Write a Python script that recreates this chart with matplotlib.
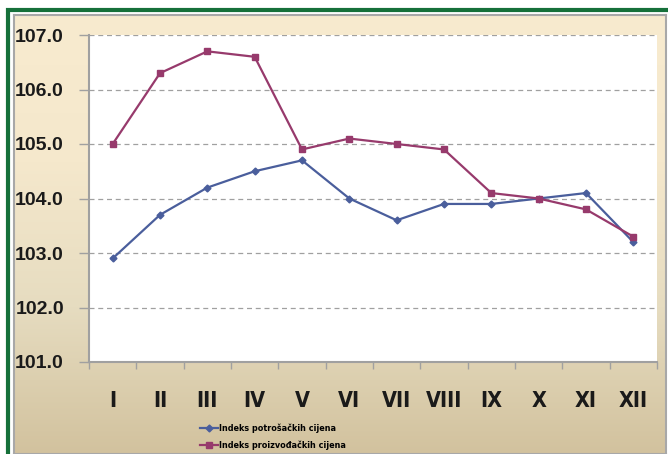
import numpy as np
import matplotlib
matplotlib.use('Agg')
import matplotlib.pyplot as plt
from matplotlib.patches import Rectangle
from matplotlib.colors import LinearSegmentedColormap
from matplotlib import font_manager

# podaci (očitano s grafa)
mjeseci = ['I', 'II', 'III', 'IV', 'V', 'VI', 'VII', 'VIII', 'IX', 'X', 'XI', 'XII']
potrosacke = [102.9, 103.7, 104.2, 104.5, 104.7, 104.0, 103.6, 103.9, 103.9, 104.0, 104.1, 103.2]
proizvodjacke = [105.0, 106.3, 106.7, 106.6, 104.9, 105.1, 105.0, 104.9, 104.1, 104.0, 103.8, 103.3]
naziv_1 = 'Indeks potrošačkih cijena'
naziv_2 = 'Indeks proizvođačkih cijena'

plt.rcParams['font.family'] = ['Liberation Sans', 'DejaVu Sans']

# uski (condensed) font ako postoji
uski = None
for f in font_manager.fontManager.ttflist:
    if ('Narrow' in f.name or 'Condensed' in f.name or 'condensed' in str(f.stretch)) \
            and f.style == 'normal':
        w = f.weight if isinstance(f.weight, int) else 400
        if uski is None or abs(w - 700) < abs(uski[1] - 700):
            uski = (f.fname, w)
if uski:
    fp_x = font_manager.FontProperties(fname=uski[0], size=15.5)
    fp_leg = font_manager.FontProperties(fname=uski[0], size=6.5)
else:
    fp_x = font_manager.FontProperties(family='Liberation Sans', weight='bold', size=14)
    fp_leg = font_manager.FontProperties(family='Liberation Sans', weight='bold', size=6)

W, H = 668, 454
fig = plt.figure(figsize=(W / 100, H / 100), dpi=100)
fig.patch.set_facecolor('white')

# zeleni okvir i pozadina s gradijentom
bg = fig.add_axes([14 / W, 0, (666 - 14) / W, 1 - 15 / H], zorder=0)
cmap = LinearSegmentedColormap.from_list('bg', ['#F8EBCF', '#F5E8CC', '#E6DCC0', '#D2C29E'])
bg.imshow(np.linspace(0, 1, 256).reshape(-1, 1), aspect='auto', cmap=cmap, extent=[0, 1, 0, 1])
bg.set_xticks([])
bg.set_yticks([])
for s in bg.spines.values():
    s.set_color('#A8A8A8')
    s.set_linewidth(1.5)
bg.add_patch(Rectangle((-6 / 652, -0.1), 2.0, 1 + 0.1 + 4.5 / 439, transform=bg.transAxes,
                       facecolor='none', edgecolor='#16703A', linewidth=3, clip_on=False))

ax = fig.add_axes([89 / W, 1 - 362 / H, 568 / W, 327 / H], zorder=1)
ax.set_facecolor('white')
x = np.arange(len(mjeseci))
ax.plot(x, potrosacke, color='#4A5E9C', lw=1.6, marker='D', ms=3.5, label=naziv_1)
ax.plot(x, proizvodjacke, color='#973A6C', lw=1.6, marker='s', ms=5, label=naziv_2)

ax.set_xlim(-0.5, len(mjeseci) - 0.5)
ax.set_ylim(101, 107)
ax.set_yticks(np.arange(101, 107.5, 1))
ax.set_yticklabels([f'{v:.1f}' for v in np.arange(101, 107.5, 1)])
ax.yaxis.grid(True, linestyle=(0, (4, 3)), color='#A0A0A0', lw=0.9)
ax.set_axisbelow(True)
ax.set_xticks(x)
ax.set_xticklabels(mjeseci, fontproperties=fp_x, color='#1A1A1A')
ax.set_xticks(np.arange(-0.5, len(mjeseci)), minor=True)
ax.tick_params(axis='x', which='major', length=0, pad=21)
ax.tick_params(axis='x', which='minor', length=5, color='#A0A0A0', width=1)
ax.tick_params(axis='y', length=7, color='#A0A0A0', width=1, pad=11, labelsize=14)
for lab in ax.get_yticklabels():
    lab.set_fontweight('bold')
    lab.set_color('#1A1A1A')
for k in ['top', 'right']:
    ax.spines[k].set_visible(False)
for k in ['left', 'bottom']:
    ax.spines[k].set_color('#A0A0A0')
    ax.spines[k].set_linewidth(1.5)

leg = fig.legend(loc='center', bbox_to_anchor=(273 / W, 1 - 437 / H), frameon=False,
                 prop=fp_leg, handlelength=2.0, handletextpad=0.2, labelspacing=0.8, borderpad=0)
leg.set_zorder(5)

fig.savefig('out.png', dpi=100)
